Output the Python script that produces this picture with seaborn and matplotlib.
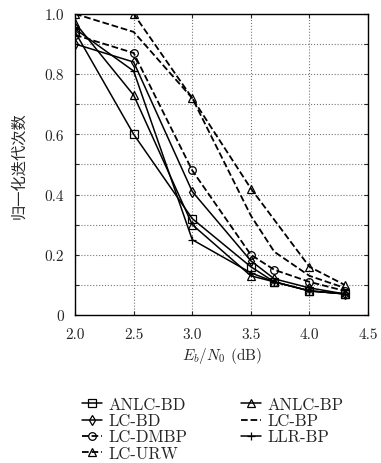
import numpy as np
import pandas as pd
import matplotlib
matplotlib.use("Agg")
import matplotlib.pyplot as plt
import seaborn as sns

snr = [2.0, 2.5, 3.0, 3.5, 3.7, 4.0, 4.3]
snr_urw = [2.0, 2.5, 3.0, 3.5, 4.0, 4.3]

anlc_bd = [0.94, 0.60, 0.32, 0.16, 0.11, 0.08, 0.07]
lc_bd = [0.90, 0.84, 0.41, 0.18, 0.12, 0.09, 0.07]
lc_dmbp = [0.93, 0.87, 0.48, 0.20, 0.15, 0.11, 0.08]
lc_urw = [1.00, 1.00, 0.72, 0.42, 0.16, 0.10]
anlc_bp = [0.97, 0.73, 0.30, 0.13, 0.11, 0.08, 0.07]
lc_bp = [1.00, 0.94, 0.72, 0.33, 0.21, 0.13, 0.09]
llr_bp = [0.95, 0.81, 0.25, 0.14, 0.11, 0.08, 0.07]

# legend order (column-major, 2 columns)
series = [
    ("ANLC-BD", snr, anlc_bd, "s", "-"),
    ("LC-BD", snr, lc_bd, "d", "-"),
    ("LC-DMBP", snr, lc_dmbp, "o", "--"),
    ("LC-URW", snr_urw, lc_urw, "^", "--"),
    ("ANLC-BP", snr, anlc_bp, "^", "-"),
    ("LC-BP", snr, lc_bp, None, "--"),
    ("LLR-BP", snr, llr_bp, "+", "-"),
]

sns.set_style("ticks")
plt.rcParams["font.family"] = ["cmr10", "Noto Sans CJK SC", "DejaVu Sans"]
plt.rcParams["mathtext.fontset"] = "cm"
plt.rcParams["axes.formatter.use_mathtext"] = True

fig = plt.figure(figsize=(3.81, 4.64), dpi=100)
ax = fig.add_axes([0.197, 0.319, 0.769, 0.649])

for name, xs, vals, mk, ls in series:
    df = pd.DataFrame({"x": xs, "y": vals})
    kw = dict(color="k", linestyle=ls, linewidth=1.1, label=name)
    if mk is not None:
        kw.update(marker=mk, markersize=5.5, markerfacecolor="none",
                  markeredgecolor="k", markeredgewidth=0.9)
    if ls == "--":
        kw.update(dashes=(5, 3), linewidth=1.3)
    sns.lineplot(data=df, x="x", y="y", ax=ax, **kw)

ax.set_xlim(2.0, 4.5)
ax.set_ylim(0, 1.0)
ax.set_xticks([2.0, 2.5, 3.0, 3.5, 4.0, 4.5])
ax.set_xticklabels(["2.0", "2.5", "3.0", "3.5", "4.0", "4.5"])
ax.set_yticks([0, 0.2, 0.4, 0.6, 0.8, 1.0])
ax.set_yticklabels(["0", "0.2", "0.4", "0.6", "0.8", "1.0"])
ax.set_yticks(np.arange(0.1, 1.0, 0.2), minor=True)
ax.grid(True, which="both", axis="y", linestyle=":", color="#777777", linewidth=0.8)
ax.grid(True, which="major", axis="x", linestyle=":", color="#777777", linewidth=0.8)
ax.tick_params(direction="in", top=True, right=True, which="both", labelsize=11,
               length=3, width=0.8)
ax.tick_params(axis="x", pad=9)
ax.tick_params(axis="y", pad=8)
for s in ax.spines.values():
    s.set_linewidth(1.0)
    s.set_color("k")

ax.set_xlabel(r"$E_b/N_0$ (dB)", fontsize=11, labelpad=3)
ax.set_ylabel("归一化迭代次数", fontsize=11, family=["Noto Sans CJK SC"], labelpad=12)

ax.legend(ncol=2, loc="upper left", bbox_to_anchor=(0.024, -0.272), frameon=False,
          fontsize=12, handlelength=1.2, handletextpad=0.4, columnspacing=3.2,
          labelspacing=0.05, borderaxespad=0, borderpad=0)

fig.savefig("out.png", dpi=100)
